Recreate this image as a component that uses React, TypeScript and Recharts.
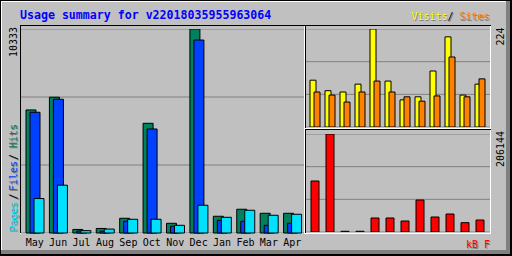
import { BarChart, Bar, XAxis, YAxis, CartesianGrid } from 'recharts'

// monthly usage
const months = ['May', 'Jun', 'Jul', 'Aug', 'Sep', 'Oct', 'Nov', 'Dec', 'Jan', 'Feb', 'Mar', 'Apr']
const hits = [6234, 6877, 180, 230, 745, 5556, 491, 10333, 847, 1203, 999, 999]
const files = [6115, 6776, 100, 90, 593, 5268, 339, 9774, 644, 593, 390, 491]
const pages = [1745, 2422, 120, 200, 695, 695, 390, 1406, 796, 1152, 898, 949]
const visits = [107, 83, 80, 98, 224, 105, 62, 69, 128, 206, 73, 98]
const sites = [80, 73, 57, 80, 105, 80, 69, 59, 71, 160, 69, 110]
const kbytes = [107280, 206144, 1500, 1500, 29450, 29450, 23140, 67310, 31550, 37860, 19630, 25240]

const title = 'Usage summary for v22018035955963064'
const maxHits = 10333
const maxVisits = 224
const maxKb = 206144

const mono = 'DejaVu Sans Mono'
const shadow = '#808080'

const mainData = months.map((m, i) => ({ month: m, hits: hits[i], files: files[i], pages: pages[i] }))
const visitData = months.map((m, i) => ({ month: m, visits: visits[i], sites: sites[i] }))
const kbData = months.map((m, i) => ({ month: m, kb: kbytes[i] }))

const thirds = (max: number) => [max / 3, (2 * max) / 3]

const MonthTick = ({ x, y, payload }: any) => (
  <text x={x} y={y + 12.5} textAnchor="middle" fontFamily={mono} fontSize={10} fill="#000">
    {payload.value}
  </text>
)

// text drawn twice, gray copy offset by a pixel like the gd shadow
const Shadowed = ({ x, y, color, children, rotate }: any) => {
  const t = (dx: number, fill: string) => (
    <text
      x={x + dx}
      y={y + dx}
      fill={fill}
      fontFamily={mono}
      fontSize={10}
      transform={rotate ? `rotate(-90 ${x + dx} ${y + dx})` : undefined}
    >
      {children}
    </text>
  )
  return (
    <g>
      {t(1, shadow)}
      {t(0, color)}
    </g>
  )
}

function Frame() {
  return (
    <svg width={512} height={256} style={{ position: 'absolute', left: 0, top: 0 }} shapeRendering="crispEdges">
      <rect x={0} y={0} width={512} height={256} fill="#000" />
      <rect x={1} y={1} width={509} height={253} fill="#808080" />
      <rect x={1} y={1} width={505} height={249} fill="#fff" />
      <rect x={2} y={2} width={504} height={248} fill="#c0c0c0" />
      {/* hits / files / pages box */}
      <line x1={20} y1={25.5} x2={305} y2={25.5} stroke="#000" />
      <line x1={20.5} y1={25} x2={20.5} y2={234} stroke="#000" />
      <line x1={20} y1={233.5} x2={305} y2={233.5} stroke="#fff" />
      <line x1={304.5} y1={26} x2={304.5} y2={234} stroke="#fff" />
      {/* visits / sites box */}
      <line x1={305} y1={25.5} x2={491} y2={25.5} stroke="#000" />
      <line x1={305.5} y1={25} x2={305.5} y2={129} stroke="#000" />
      <line x1={305} y1={128.5} x2={491} y2={128.5} stroke="#fff" />
      <line x1={490.5} y1={26} x2={490.5} y2={129} stroke="#fff" />
      {/* kbytes box */}
      <line x1={305} y1={129.5} x2={491} y2={129.5} stroke="#000" />
      <line x1={305.5} y1={129} x2={305.5} y2={234} stroke="#000" />
      <line x1={305} y1={233.5} x2={491} y2={233.5} stroke="#fff" />
      <line x1={490.5} y1={130} x2={490.5} y2={234} stroke="#fff" />
    </svg>
  )
}

function Labels() {
  return (
    <svg width={512} height={256} style={{ position: 'absolute', left: 0, top: 0, pointerEvents: 'none' }}>
      <text x={20} y={19} fill="#0000ff" fontFamily={mono} fontSize={11.6} fontWeight="bold">
        {title}
      </text>
      <Shadowed x={411.5} y={20} color="#ffff00">Visits</Shadowed>
      <Shadowed x={447.5} y={20} color="#000">/</Shadowed>
      <Shadowed x={459.5} y={20} color="#ff8000">Sites</Shadowed>
      <Shadowed x={466} y={247.5} color="#ff0000">kB F</Shadowed>
      <Shadowed x={16.5} y={231.5} color="#00e0ff" rotate>Pages</Shadowed>
      <Shadowed x={16.5} y={199.5} color="#000" rotate>/</Shadowed>
      <Shadowed x={16.5} y={191} color="#0040ff" rotate>Files</Shadowed>
      <Shadowed x={16.5} y={160} color="#000" rotate>/</Shadowed>
      <Shadowed x={16.5} y={148} color="#00805c" rotate>Hits</Shadowed>
      <text x={16.5} y={57} fill="#000" fontFamily={mono} fontSize={10} transform="rotate(-90 16.5 57)">
        {maxHits}
      </text>
      <text x={503.5} y={45.5} fill="#000" fontFamily={mono} fontSize={10} transform="rotate(-90 503.5 45.5)">
        {maxVisits}
      </text>
      <text x={503.5} y={167} fill="#000" fontFamily={mono} fontSize={10} transform="rotate(-90 503.5 167)">
        {maxKb}
      </text>
    </svg>
  )
}

export default function App() {
  return (
    <div style={{ position: 'absolute', left: 0, top: 0, width: 512, height: 256, overflow: 'hidden' }}>
      <Frame />
      <div style={{ position: 'absolute', left: 21, top: 29 }}>
        <BarChart width={283} height={224} data={mainData} margin={{ top: 0, right: 0, bottom: 0, left: 0 }} barGap={-6}>
          <CartesianGrid vertical={false} stroke="#808080" />
          <XAxis
            dataKey="month"
            height={20}
            padding={{ left: 2, right: 0 }}
            axisLine={false}
            tickLine={false}
            tickSize={0}
            tickMargin={0}
            interval={0}
            tick={<MonthTick />}
          />
          <YAxis hide domain={[0, maxHits]} ticks={thirds(maxHits)} />
          <Bar dataKey="hits" fill="#00805c" stroke="#000" strokeWidth={1} barSize={10} isAnimationActive={false} />
          <Bar dataKey="files" fill="#0040ff" stroke="#000" strokeWidth={1} barSize={10} isAnimationActive={false} />
          <Bar dataKey="pages" fill="#00e0ff" stroke="#000" strokeWidth={1} barSize={10} isAnimationActive={false} />
        </BarChart>
      </div>
      <div style={{ position: 'absolute', left: 306, top: 29 }}>
        <BarChart width={184} height={98} data={visitData} margin={{ top: 0, right: 0, bottom: 0, left: 0 }} barGap={-2}>
          <CartesianGrid vertical={false} stroke="#808080" />
          <XAxis dataKey="month" hide padding={{ left: 1, right: 3 }} />
          <YAxis hide domain={[0, maxVisits]} ticks={thirds(maxVisits)} />
          <Bar dataKey="visits" fill="#ffff00" stroke="#000" strokeWidth={1} barSize={6} isAnimationActive={false} />
          <Bar dataKey="sites" fill="#ff8000" stroke="#000" strokeWidth={1} barSize={6} isAnimationActive={false} />
        </BarChart>
      </div>
      <div style={{ position: 'absolute', left: 306, top: 134 }}>
        <BarChart width={184} height={98} data={kbData} margin={{ top: 0, right: 0, bottom: 0, left: 0 }}>
          <CartesianGrid vertical={false} stroke="#808080" />
          <XAxis dataKey="month" hide padding={{ left: 1, right: 3 }} />
          <YAxis hide domain={[0, maxKb]} ticks={thirds(maxKb)} />
          <Bar dataKey="kb" fill="#ff0000" stroke="#000" strokeWidth={1} barSize={8} isAnimationActive={false} />
        </BarChart>
      </div>
      <Labels />
    </div>
  )
}
